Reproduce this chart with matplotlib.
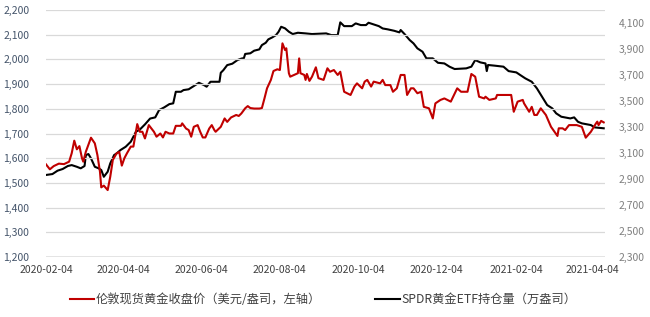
import pandas as pd
import numpy as np
import matplotlib.pyplot as plt
import matplotlib.dates as mdates
from matplotlib.ticker import FuncFormatter, MultipleLocator, FixedLocator

plt.rcParams['font.family'] = ['Noto Sans CJK SC', 'DejaVu Sans']

# 伦敦现货黄金收盘价 (美元/盎司)
gold_dates = ['2020-02-04', '2020-02-07', '2020-02-10', '2020-02-14', '2020-02-18', '2020-02-22',
              '2020-02-24', '2020-02-26', '2020-02-28', '2020-03-01', '2020-03-03', '2020-03-04',
              '2020-03-06', '2020-03-10', '2020-03-13', '2020-03-15', '2020-03-17', '2020-03-18',
              '2020-03-20', '2020-03-23', '2020-03-25', '2020-03-27', '2020-03-30', '2020-04-01',
              '2020-04-03', '2020-04-05', '2020-04-07', '2020-04-10', '2020-04-12', '2020-04-15',
              '2020-04-17', '2020-04-19', '2020-04-21', '2020-04-24', '2020-04-28', '2020-04-30',
              '2020-05-03', '2020-05-05', '2020-05-07', '2020-05-10', '2020-05-13', '2020-05-15',
              '2020-05-19', '2020-05-20', '2020-05-23', '2020-05-25', '2020-05-27', '2020-05-29',
              '2020-06-01', '2020-06-03', '2020-06-05', '2020-06-07', '2020-06-10', '2020-06-12',
              '2020-06-14', '2020-06-15', '2020-06-19', '2020-06-22', '2020-06-24', '2020-06-27',
              '2020-07-01', '2020-07-03', '2020-07-05', '2020-07-08', '2020-07-10', '2020-07-12',
              '2020-07-15', '2020-07-19', '2020-07-21', '2020-07-23', '2020-07-25', '2020-07-28',
              '2020-07-30', '2020-08-02', '2020-08-04', '2020-08-06', '2020-08-08', '2020-08-09',
              '2020-08-11', '2020-08-12', '2020-08-15', '2020-08-18', '2020-08-19', '2020-08-20',
              '2020-08-23', '2020-08-24', '2020-08-25', '2020-08-27', '2020-08-29', '2020-09-01',
              '2020-09-03', '2020-09-07', '2020-09-10', '2020-09-12', '2020-09-15', '2020-09-18',
              '2020-09-20', '2020-09-23', '2020-09-28', '2020-10-01', '2020-10-03', '2020-10-07',
              '2020-10-09', '2020-10-11', '2020-10-14', '2020-10-16', '2020-10-21', '2020-10-23',
              '2020-10-25', '2020-10-29', '2020-10-31', '2020-11-03', '2020-11-06', '2020-11-09',
              '2020-11-11', '2020-11-14', '2020-11-16', '2020-11-19', '2020-11-22', '2020-11-24',
              '2020-11-28', '2020-12-01', '2020-12-03', '2020-12-07', '2020-12-10', '2020-12-15',
              '2020-12-20', '2020-12-23', '2020-12-28', '2020-12-31', '2021-01-03', '2021-01-06',
              '2021-01-10', '2021-01-11', '2021-01-14', '2021-01-19', '2021-01-20', '2021-01-25',
              '2021-01-31', '2021-02-02', '2021-02-05', '2021-02-09', '2021-02-10', '2021-02-14',
              '2021-02-16', '2021-02-18', '2021-02-20', '2021-02-23', '2021-02-27', '2021-03-03',
              '2021-03-08', '2021-03-09', '2021-03-12', '2021-03-14', '2021-03-17', '2021-03-23',
              '2021-03-27', '2021-03-30', '2021-04-03', '2021-04-07', '2021-04-08', '2021-04-09',
              '2021-04-11', '2021-04-13']
gold_price = [1575, 1555, 1568, 1578, 1576, 1586,
              1620, 1671, 1636, 1649, 1600, 1586,
              1626, 1683, 1660, 1613, 1545, 1482,
              1489, 1471, 1525, 1593, 1620, 1625,
              1570, 1600, 1620, 1647, 1647, 1738,
              1707, 1707, 1680, 1734, 1707, 1687,
              1700, 1684, 1707, 1700, 1700, 1731,
              1731, 1741, 1720, 1714, 1687, 1727,
              1734, 1707, 1684, 1684, 1720, 1734,
              1714, 1707, 1727, 1761, 1747, 1765,
              1775, 1771, 1781, 1802, 1811, 1803,
              1801, 1801, 1803, 1842, 1883, 1917,
              1953, 1960, 1957, 2065, 2038, 2045,
              1944, 1930, 1937, 1944, 2004, 1944,
              1937, 1917, 1941, 1913, 1930, 1968,
              1924, 1917, 1964, 1950, 1957, 1937,
              1950, 1869, 1856, 1890, 1903, 1883,
              1910, 1917, 1890, 1910, 1903, 1917,
              1896, 1896, 1869, 1883, 1937, 1937,
              1856, 1883, 1883, 1863, 1869, 1808,
              1802, 1761, 1822, 1836, 1842, 1829,
              1883, 1869, 1869, 1941, 1930, 1849,
              1842, 1849, 1836, 1842, 1856, 1856,
              1856, 1788, 1829, 1836, 1822, 1788,
              1808, 1775, 1775, 1802, 1775, 1727,
              1690, 1721, 1721, 1714, 1734, 1734,
              1727, 1683, 1707, 1741, 1748, 1734,
              1751, 1745]

# SPDR黄金ETF持仓量 (万盎司)
etf_dates = ['2020-02-04', '2020-02-09', '2020-02-13', '2020-02-17', '2020-02-21', '2020-02-24',
             '2020-02-28', '2020-03-02', '2020-03-05', '2020-03-06', '2020-03-08', '2020-03-10',
             '2020-03-13', '2020-03-16', '2020-03-18', '2020-03-20', '2020-03-23', '2020-03-25',
             '2020-03-28', '2020-03-30', '2020-04-02', '2020-04-06', '2020-04-10', '2020-04-14',
             '2020-04-17', '2020-04-21', '2020-04-25', '2020-04-29', '2020-05-02', '2020-05-06',
             '2020-05-10', '2020-05-13', '2020-05-15', '2020-05-19', '2020-05-21', '2020-05-25',
             '2020-05-29', '2020-06-02', '2020-06-06', '2020-06-08', '2020-06-11', '2020-06-18',
             '2020-06-19', '2020-06-21', '2020-06-24', '2020-06-28', '2020-07-02', '2020-07-05',
             '2020-07-07', '2020-07-08', '2020-07-12', '2020-07-15', '2020-07-19', '2020-07-21',
             '2020-07-24', '2020-07-26', '2020-07-29', '2020-08-01', '2020-08-03', '2020-08-05',
             '2020-08-08', '2020-08-11', '2020-08-14', '2020-08-18', '2020-08-24', '2020-08-29',
             '2020-09-09', '2020-09-13', '2020-09-18', '2020-09-20', '2020-09-23', '2020-09-29',
             '2020-10-02', '2020-10-06', '2020-10-10', '2020-10-12', '2020-10-16', '2020-10-20',
             '2020-10-23', '2020-10-27', '2020-11-01', '2020-11-05', '2020-11-06', '2020-11-09',
             '2020-11-13', '2020-11-16', '2020-11-19', '2020-11-23', '2020-11-26', '2020-12-01',
             '2020-12-05', '2020-12-10', '2020-12-14', '2020-12-18', '2020-12-27', '2020-12-31',
             '2021-01-03', '2021-01-07', '2021-01-11', '2021-01-12', '2021-01-13', '2021-01-18',
             '2021-01-25', '2021-01-29', '2021-02-04', '2021-02-07', '2021-02-11', '2021-02-16',
             '2021-02-20', '2021-02-24', '2021-02-28', '2021-03-04', '2021-03-07', '2021-03-11',
             '2021-03-18', '2021-03-21', '2021-03-24', '2021-03-27', '2021-04-03', '2021-04-06',
             '2021-04-13']
etf_holdings = [2931, 2938, 2964, 2977, 3000, 3007,
                2994, 2982, 3000, 3084, 3092, 3059,
                2994, 2982, 2969, 2917, 2956, 3020,
                3084, 3097, 3123, 3148, 3187, 3264,
                3280, 3320, 3365, 3374, 3430, 3451,
                3476, 3482, 3571, 3571, 3584, 3590,
                3615, 3640, 3622, 3610, 3648, 3648,
                3717, 3737, 3776, 3787, 3815, 3826,
                3830, 3862, 3867, 3887, 3897, 3930,
                3948, 3974, 3989, 4007, 4033, 4071,
                4059, 4033, 4015, 4025, 4020, 4015,
                4020, 4007, 4007, 4105, 4076, 4076,
                4097, 4084, 4084, 4102, 4089, 4076,
                4058, 4051, 4040, 4028, 4046, 4015,
                3969, 3943, 3905, 3879, 3828, 3828,
                3794, 3789, 3764, 3746, 3751, 3764,
                3815, 3797, 3789, 3730, 3777, 3772,
                3764, 3730, 3720, 3700, 3674, 3648,
                3597, 3533, 3469, 3443, 3405, 3379,
                3366, 3374, 3340, 3328, 3315, 3297,
                3290]

x_ticks = ['2020-02-04', '2020-04-04', '2020-06-04', '2020-08-04', '2020-10-04',
           '2020-12-04', '2021-02-04', '2021-04-04']

gold_label = '伦敦现货黄金收盘价（美元/盎司，左轴）'
etf_label = 'SPDR黄金ETF持仓量（万盎司）'

fig = plt.figure(figsize=(6.5, 3.17), dpi=100)
ax1 = fig.add_axes([46 / 650, 1 - 257 / 317, 559 / 650, 247 / 317])
ax2 = ax1.twinx()

gd = pd.to_datetime(gold_dates)
ed = pd.to_datetime(etf_dates)

l1, = ax1.plot(gd, gold_price, color='#c00000', lw=1.5, label=gold_label, zorder=3)
l2, = ax2.plot(ed, etf_holdings, color='black', lw=1.5, label=etf_label)
ax1.set_zorder(ax2.get_zorder() + 1)
ax1.patch.set_visible(False)

ax1.set_ylim(1200, 2200)
ax1.yaxis.set_major_locator(MultipleLocator(100))
ax2.set_ylim(2300, 4200)
ax2.yaxis.set_major_locator(FixedLocator(np.arange(2300, 4101, 200)))
fmt = FuncFormatter(lambda v, p: f'{v:,.0f}')
ax1.yaxis.set_major_formatter(fmt)
ax2.yaxis.set_major_formatter(fmt)

ax1.set_xlim(pd.Timestamp('2020-02-04'), pd.Timestamp('2021-04-14'))
ax1.set_xticks(pd.to_datetime(x_ticks))
ax1.xaxis.set_major_formatter(mdates.DateFormatter('%Y-%m-%d'))

ax1.grid(axis='y', color='#d9d9d9', lw=0.9)
ax1.set_axisbelow(True)
for ax in (ax1, ax2):
    for s in ['top', 'left', 'right', 'bottom']:
        ax.spines[s].set_visible(False)
ax1.axhline(1200, color='#8c8c8c', lw=1.0, zorder=2)

ax1.tick_params(axis='y', length=0, labelsize=7.5, labelcolor='#44546a', pad=12)
ax1.tick_params(axis='x', length=0, labelsize=7.5, labelcolor='#404040', pad=6)
ax2.tick_params(axis='y', length=0, labelsize=7.5, labelcolor='#7f7f7f', pad=10)

fig.legend(handles=[l1, l2], loc='center', bbox_to_anchor=(0.497, 0.055), ncol=2,
           frameon=False, fontsize=8.8, handlelength=2.0, handletextpad=0.15,
           columnspacing=4.4, labelcolor='#404040')

fig.savefig('out.png', dpi=100)
